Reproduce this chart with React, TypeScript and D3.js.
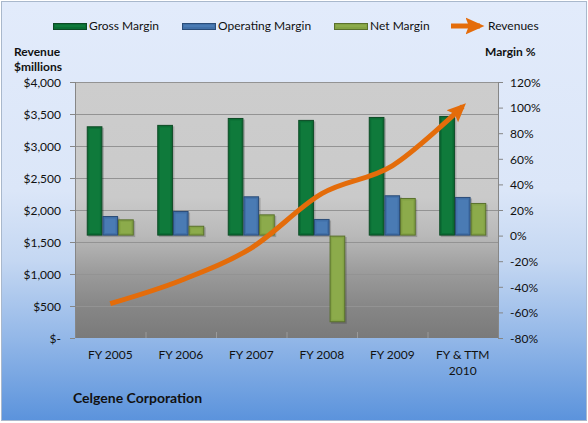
import { useRef, useEffect } from "react";
import * as d3 from "d3";

// Chart data
const categories = ["FY 2005", "FY 2006", "FY 2007", "FY 2008", "FY 2009", "FY & TTM 2010"];
const grossMargin = [85.4, 86.5, 91.9, 90.4, 92.7, 93.5];
const operatingMargin = [15.3, 19.2, 30.7, 13, 31.5, 30.2];
const netMargin = [12.7, 7.7, 16.6, -67.7, 29.4, 25.5];
const revenues = [537, 899, 1406, 2255, 2690, 3620];

const revenueTicks = [0, 500, 1000, 1500, 2000, 2500, 3000, 3500, 4000];
const marginTicks = [-80, -60, -40, -20, 0, 20, 40, 60, 80, 100, 120];

const seriesNames = ["Gross Margin", "Operating Margin", "Net Margin"];
const seriesFill = ["#0a6d34", "#4170a8", "#83a244"];
const seriesEdge = ["#0c4a24", "#2a4c78", "#5a712c"];
const seriesLight = ["#0f7a3b", "#4a7bb4", "#8cab4b"];

const FONT = "Lato, 'Open Sans', sans-serif";

const App = () => {
  const svgRef = useRef<SVGSVGElement | null>(null);
  const width = 588;
  const height = 423;

  useEffect(() => {
    if (!svgRef.current) return;
    const svg = d3.select(svgRef.current);
    svg.selectAll("*").remove();

    const plot = { left: 75, right: 498, top: 82, bottom: 338 };

    const defs = svg.append("defs");
    const bg = defs.append("linearGradient").attr("id", "bg").attr("x1", 0).attr("y1", 0).attr("x2", 0).attr("y2", 1);
    [
      [0, "#e2ebfb"],
      [0.45, "#dbe6f8"],
      [0.62, "#c4d7f2"],
      [0.8, "#94b8e8"],
      [1, "#5b93dc"],
    ].forEach(([o, c]) => bg.append("stop").attr("offset", o as number).attr("stop-color", c as string));

    const pg = defs.append("linearGradient").attr("id", "pg").attr("x1", 0).attr("y1", 0).attr("x2", 0).attr("y2", 1);
    [
      [0, "#cdcdcd"],
      [0.45, "#cacaca"],
      [0.6, "#b9b9b9"],
      [0.75, "#9a9a9a"],
      [0.88, "#868686"],
      [1, "#7a7a7a"],
    ].forEach(([o, c]) => pg.append("stop").attr("offset", o as number).attr("stop-color", c as string));

    defs
      .append("marker")
      .attr("id", "arrow")
      .attr("markerUnits", "userSpaceOnUse")
      .attr("markerWidth", 20)
      .attr("markerHeight", 20)
      .attr("viewBox", "0 -8 18 16")
      .attr("refX", 13)
      .attr("refY", 0)
      .attr("orient", "auto")
      .append("path")
      .attr("d", "M0,-7.5L17,0L0,7.5L3,0Z")
      .attr("fill", "#e46c0a");

    // Background
    svg
      .append("rect")
      .attr("x", 1.5)
      .attr("y", 1.5)
      .attr("width", width - 3)
      .attr("height", height - 4)
      .attr("fill", "url(#bg)")
      .attr("stroke", "#a9b8cc");

    // Scales
    const x0 = d3.scaleBand<string>().domain(categories).range([plot.left, plot.right]);
    const x1 = d3
      .scaleBand<string>()
      .domain(seriesNames)
      .range([0, x0.bandwidth()])
      .paddingOuter(0.75);
    const yRev = d3.scaleLinear().domain([0, 4000]).range([plot.bottom, plot.top]);
    const yPct = d3.scaleLinear().domain([-80, 120]).range([plot.bottom, plot.top]);

    // Plot area
    svg
      .append("rect")
      .attr("x", plot.left)
      .attr("y", plot.top)
      .attr("width", plot.right - plot.left)
      .attr("height", plot.bottom - plot.top)
      .attr("fill", "url(#pg)");

    // Gridlines
    svg
      .append("g")
      .selectAll("line")
      .data(revenueTicks.slice(1))
      .enter()
      .append("line")
      .attr("x1", plot.left)
      .attr("x2", plot.right)
      .attr("y1", (d) => yRev(d) + 0.5)
      .attr("y2", (d) => yRev(d) + 0.5)
      .attr("stroke", "#939393")
      .attr("stroke-width", 1);

    // Category ticks
    svg
      .append("g")
      .selectAll("line")
      .data(d3.range(1, categories.length))
      .enter()
      .append("line")
      .attr("x1", (i) => plot.left + i * x0.step() + 0.5)
      .attr("x2", (i) => plot.left + i * x0.step() + 0.5)
      .attr("y1", plot.bottom - 6)
      .attr("y2", plot.bottom)
      .attr("stroke", "#9a9a9a");

    // Bars
    const seriesValues = [grossMargin, operatingMargin, netMargin];
    const barG = svg.append("g");
    seriesValues.forEach((vals, s) => {
      vals.forEach((v, i) => {
        const bx = (x0(categories[i]) ?? 0) + (x1(seriesNames[s]) ?? 0);
        const bw = x1.bandwidth();
        const y0 = yPct(0);
        const yv = yPct(v);
        const top = Math.min(y0, yv);
        const h = Math.abs(y0 - yv);
        barG
          .append("rect")
          .attr("x", bx + 1.5)
          .attr("y", top + 1.5)
          .attr("width", bw)
          .attr("height", h)
          .attr("fill", "rgba(0,0,0,0.18)");
        barG
          .append("rect")
          .attr("x", bx + 0.5)
          .attr("y", top + 0.5)
          .attr("width", bw - 1)
          .attr("height", h - 1)
          .attr("fill", seriesFill[s])
          .attr("stroke", seriesEdge[s])
          .attr("stroke-width", 1);
        if (h > 6) {
          barG
            .append("rect")
            .attr("x", bx + 2.5)
            .attr("y", top + 2.5)
            .attr("width", bw - 5)
            .attr("height", h - 5)
            .attr("fill", seriesLight[s]);
        }
      });
    });

    // Revenue line
    const line = d3
      .line<number>()
      .x((_, i) => (x0(categories[i]) ?? 0) + x0.bandwidth() / 2)
      .y((d) => yRev(d))
      .curve(d3.curveCardinal.tension(0));
    svg
      .append("path")
      .datum(revenues)
      .attr("d", line)
      .attr("fill", "none")
      .attr("stroke", "#e46c0a")
      .attr("stroke-width", 5)
      .attr("marker-end", "url(#arrow)");

    // Axes lines
    const axisColor = "#868686";
    svg
      .append("line")
      .attr("x1", plot.left + 0.5)
      .attr("x2", plot.left + 0.5)
      .attr("y1", plot.top)
      .attr("y2", plot.bottom)
      .attr("stroke", axisColor);
    svg
      .append("line")
      .attr("x1", plot.right + 0.5)
      .attr("x2", plot.right + 0.5)
      .attr("y1", plot.top)
      .attr("y2", plot.bottom)
      .attr("stroke", axisColor);

    // Left axis
    const lg = svg.append("g");
    revenueTicks.forEach((t) => {
      const y = yRev(t) + 0.5;
      lg.append("line").attr("x1", plot.left - 5).attr("x2", plot.left).attr("y1", y).attr("y2", y).attr("stroke", axisColor);
      lg.append("text")
        .attr("x", 61)
        .attr("y", y)
        .attr("dy", "0.35em")
        .attr("text-anchor", "end")
        .text(t === 0 ? "$-" : "$" + d3.format(",")(t));
    });

    // Right axis
    const rg = svg.append("g");
    marginTicks.forEach((t) => {
      const y = yPct(t) + 0.5;
      rg.append("line").attr("x1", plot.right).attr("x2", plot.right + 5).attr("y1", y).attr("y2", y).attr("stroke", axisColor);
      rg.append("text").attr("x", 510).attr("y", y).attr("dy", "0.35em").text(`${t}%`);
    });

    // Category labels
    const cg = svg.append("g");
    categories.forEach((c) => {
      const cx = (x0(c) ?? 0) + x0.bandwidth() / 2;
      const lines = c === "FY & TTM 2010" ? ["FY & TTM", "2010"] : [c];
      lines.forEach((l, k) => {
        cg.append("text")
          .attr("x", cx)
          .attr("y", 355 + k * 16)
          .attr("dy", "0.35em")
          .attr("text-anchor", "middle")
          .text(l);
      });
    });

    svg.selectAll("g text").style("font-size", "12px").style("fill", "#111").style("font-family", FONT);

    // Legend
    const legend = svg.append("g").style("font-family", FONT).style("font-size", "12px");
    const legendX = [53, 182, 334];
    seriesNames.forEach((name, s) => {
      const lx = legendX[s];
      legend
        .append("rect")
        .attr("x", lx + 0.5)
        .attr("y", 23.5)
        .attr("width", 33)
        .attr("height", 6)
        .attr("fill", seriesFill[s])
        .attr("stroke", seriesEdge[s]);
      legend
        .append("rect")
        .attr("x", lx + 2)
        .attr("y", 25)
        .attr("width", 30)
        .attr("height", 2)
        .attr("fill", seriesLight[s]);
      legend.append("text").attr("x", lx + 36).attr("y", 26).attr("dy", "0.35em").style("fill", "#111").text(name);
    });
    legend
      .append("line")
      .attr("x1", 451)
      .attr("x2", 480)
      .attr("y1", 26)
      .attr("y2", 26)
      .attr("stroke", "#e46c0a")
      .attr("stroke-width", 5)
      .attr("marker-end", "url(#arrow)");
    legend.append("text").attr("x", 488).attr("y", 26).attr("dy", "0.35em").style("fill", "#111").text("Revenues");

    // Axis titles
    const titles = svg.append("g").style("font-family", FONT).style("font-size", "12px").style("font-weight", "bold").style("fill", "#111");
    titles.append("text").attr("x", 14).attr("y", 52).attr("dy", "0.35em").text("Revenue");
    titles.append("text").attr("x", 14).attr("y", 67).attr("dy", "0.35em").text("$millions");
    titles.append("text").attr("x", 485).attr("y", 52).attr("dy", "0.35em").text("Margin %");
    titles
      .append("text")
      .attr("x", 73)
      .attr("y", 398)
      .attr("dy", "0.35em")
      .style("font-size", "14px")
      .text("Celgene Corporation");
  }, []);

  return (
    <svg
      ref={svgRef}
      width={width}
      height={height}
      style={{ position: "absolute", left: 0, top: 0, display: "block" }}
    ></svg>
  );
};

export default App;
